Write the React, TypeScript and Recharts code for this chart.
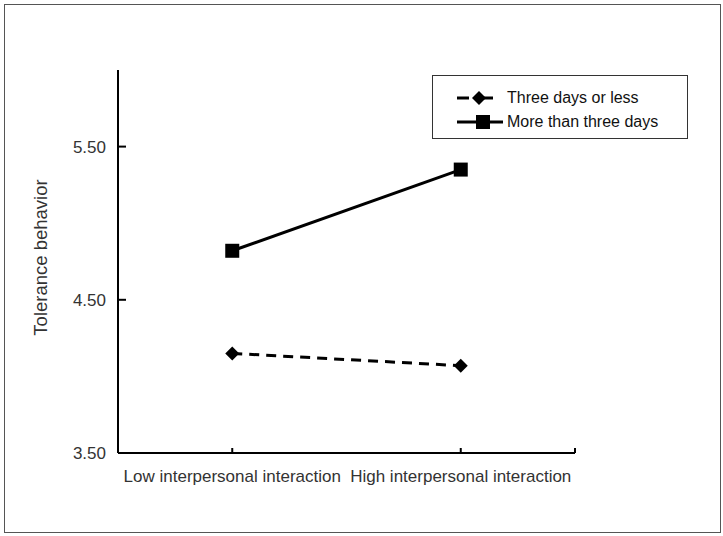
import { LineChart, Line, XAxis, YAxis } from "recharts";

// Two exposure groups measured at two levels of interaction
const categories = ["Low interpersonal interaction", "High interpersonal interaction"];
const threeDaysOrLess = [4.15, 4.07];
const moreThanThreeDays = [4.82, 5.35];
const yTicks = [3.5, 4.5, 5.5];

// numeric x so the axis can also carry a closing tick at its right end
const data = categories.map((name, i) => ({
  x: i + 0.5,
  name,
  short: threeDaysOrLess[i],
  long: moreThanThreeDays[i],
}));

const FONT = "'Liberation Sans', Arial, sans-serif";

const Diamond = (props: any) => {
  const { cx, cy } = props;
  if (cx == null || cy == null) return null;
  const r = 7;
  return (
    <path
      d={`M${cx},${cy - r}L${cx + r},${cy}L${cx},${cy + r}L${cx - r},${cy}Z`}
      fill="#000"
    />
  );
};

const Square = (props: any) => {
  const { cx, cy } = props;
  if (cx == null || cy == null) return null;
  return <rect x={cx - 7} y={cy - 7} width={14} height={14} fill="#000" />;
};

const LegendBox = () => (
  <div
    style={{
      position: "absolute",
      left: 432,
      top: 75,
      width: 256,
      height: 64,
      border: "1.5px solid #333",
      background: "#fff",
      boxSizing: "border-box",
    }}
  >
    <svg width={254} height={62} style={{ position: "absolute", left: 0, top: 0 }}>
      <line x1={24} y1={22} x2={36} y2={22} stroke="#000" strokeWidth={3} />
      <path d="M46,15L53,22L46,29L39,22Z" fill="#000" />
      <line x1={50} y1={22} x2={60} y2={22} stroke="#000" strokeWidth={3} />
      <line x1={24} y1={46} x2={70} y2={46} stroke="#000" strokeWidth={3} />
      <rect x={43} y={39} width={14} height={14} fill="#000" />
      <text x={74} y={27} fontFamily={FONT} fontSize={16} fill="#111">
        Three days or less
      </text>
      <text x={74} y={51} fontFamily={FONT} fontSize={16} fill="#111">
        More than three days
      </text>
    </svg>
  </div>
);

export default function App() {
  return (
    <div style={{ position: "absolute", left: 0, top: 0, width: 723, height: 536, background: "#fff" }}>
      <div
        style={{
          position: "absolute",
          left: 4,
          top: 4,
          width: 717,
          height: 529,
          border: "1.5px solid #555",
          boxSizing: "border-box",
        }}
      />
      <LineChart
        width={723}
        height={536}
        data={data}
        margin={{ top: 70, right: 148, left: 0, bottom: 0 }}
      >
        <XAxis
          dataKey="x"
          type="number"
          domain={[0, 2]}
          ticks={[0.5, 1.5, 2]}
          tickFormatter={(v: number) => (v < 2 ? categories[Math.floor(v)] : "")}
          height={83}
          stroke="#000"
          strokeWidth={2}
          tickSize={-5}
          tickMargin={22}
          tick={{ fill: "#333", fontSize: 17, fontFamily: FONT }}
          interval={0}
        />
        <YAxis
          type="number"
          domain={[3.5, 6]}
          ticks={yTicks}
          width={118}
          stroke="#000"
          strokeWidth={2}
          tickSize={-8}
          tickMargin={20}
          tickFormatter={(v: number) => v.toFixed(2)}
          tick={{ fill: "#333", fontSize: 17, fontFamily: FONT }}
          label={{
            content: (p: any) => {
              const vb = p.viewBox;
              const cy = vb.y + vb.height / 2 - 4;
              return (
                <text
                  x={47}
                  y={cy}
                  transform={`rotate(-90 47 ${cy})`}
                  textAnchor="middle"
                  fontFamily={FONT}
                  fontSize={18.5}
                  fill="#333"
                >
                  Tolerance behavior
                </text>
              );
            },
          }}
        />
        <Line
          dataKey="short"
          name="Three days or less"
          stroke="#000"
          strokeWidth={3}
          strokeDasharray="10 7"
          dot={<Diamond />}
          activeDot={false}
          isAnimationActive={false}
        />
        <Line
          dataKey="long"
          name="More than three days"
          stroke="#000"
          strokeWidth={3}
          dot={<Square />}
          activeDot={false}
          isAnimationActive={false}
        />
      </LineChart>
      <LegendBox />
    </div>
  );
}
